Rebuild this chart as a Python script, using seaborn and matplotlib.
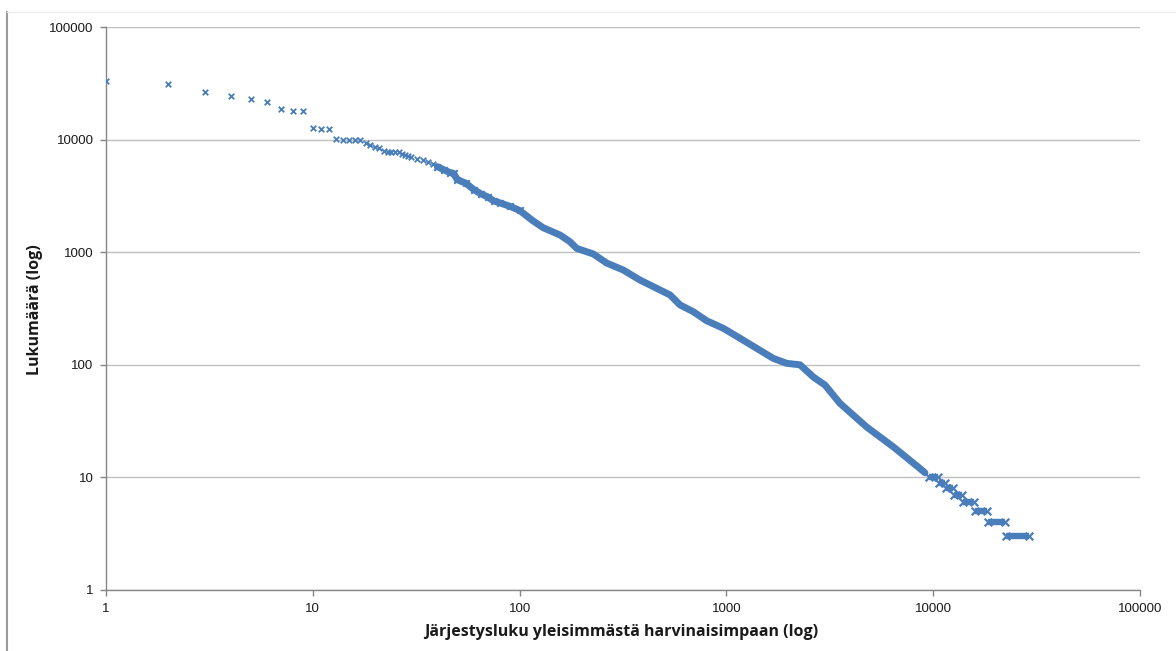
import numpy as np
import pandas as pd
import matplotlib
matplotlib.use('Agg')
import matplotlib.pyplot as plt
import seaborn as sns
from matplotlib.lines import Line2D
from matplotlib.ticker import FixedLocator, NullLocator

# most common words, read one by one
top_rank = [1, 2, 3, 4, 5, 6, 7, 8, 9, 10, 11, 12, 13, 14, 15, 16, 17, 18, 19, 20,
            21, 22, 23, 24, 25, 26, 27, 28, 29, 30, 32, 34, 36, 38, 40]
top_count = [32950, 31400, 26650, 24200, 22900, 21400, 18600, 17850, 17850, 12750,
             12400, 12400, 10050, 10020, 10010, 9990, 9900, 9400, 8950, 8650,
             8350, 7850, 7800, 7800, 7750, 7750, 7450, 7300, 7100, 6950,
             6750, 6550, 6300, 6100, 5750]

# the dense band, read along its middle
band_rank = [40, 43, 46, 48, 50, 55, 60, 65, 70, 75, 80, 90, 100, 110, 116, 130,
             157, 175, 189, 227, 264, 317, 382, 460, 534, 597, 692, 803, 966,
             1164, 1401, 1686, 1958, 2270, 2630, 3000, 3540, 4770, 6410, 8630, 9120]
band_count = [5750, 5400, 5100, 5000, 4400, 4100, 3600, 3300, 3100, 2850, 2750,
              2550, 2350, 2050, 1900, 1650, 1420, 1240, 1080, 965, 800, 695, 566,
              478, 417, 340, 296, 246, 211, 172, 140, 114, 103, 100, 78, 66, 45.5,
              28, 18.7, 12, 11]

# the tail: words with the same count sit between first and last rank
step_count = [10, 9, 8, 7, 6, 5, 4, 3]
step_first = [9500, 10700, 11550, 12600, 14000, 15900, 18400, 22400]
step_last = [10550, 11450, 12450, 13850, 15700, 18200, 22200, 29000]

x_ticks = [1, 10, 100, 1000, 10000, 100000]
y_ticks = [1, 10, 100, 1000, 10000, 100000]
x_title = 'Järjestysluku yleisimmästä harvinaisimpaan (log)'
y_title = 'Lukumäärä (log)'

blue = '#4A7EBB'
axis_grey = '#868686'

sns.set_style('white')
plt.rcParams['font.family'] = ['Liberation Sans', 'DejaVu Sans']

top = pd.DataFrame({'rank': top_rank, 'count': top_count})
band = pd.DataFrame({'rank': band_rank, 'count': band_count})
ends = pd.DataFrame({'rank': step_first + step_last, 'count': step_count + step_count})

fig = plt.figure(figsize=(11.76, 6.51), dpi=100)
ax = fig.add_axes([106 / 1176, 1 - 590 / 651, (1140 - 106) / 1176, (590 - 27) / 651])

ax.set_xscale('log')
ax.set_yscale('log')

sns.lineplot(data=band, x='rank', y='count', ax=ax, color=blue, lw=5.0,
             estimator=None, sort=False, solid_capstyle='round',
             solid_joinstyle='round', zorder=3)
ax.hlines(step_count, step_first, step_last, color=blue, lw=4.6, zorder=3)
sns.scatterplot(data=top, x='rank', y='count', ax=ax, marker='x', s=16,
                color=blue, linewidth=1.3, zorder=4)
sns.scatterplot(data=band[band['rank'] <= 100], x='rank', y='count', ax=ax,
                marker='x', s=22, color=blue, linewidth=1.5, zorder=4)
sns.scatterplot(data=ends, x='rank', y='count', ax=ax, marker='x', s=30,
                color=blue, linewidth=1.6, zorder=4)

ax.set_xlim(1, 100000)
ax.set_ylim(1, 100000)
ax.xaxis.set_major_locator(FixedLocator(x_ticks))
ax.yaxis.set_major_locator(FixedLocator(y_ticks))
ax.xaxis.set_minor_locator(NullLocator())
ax.yaxis.set_minor_locator(NullLocator())
ax.set_xticklabels([str(t) for t in x_ticks])
ax.set_yticklabels([str(t) for t in y_ticks])

ax.grid(axis='y', color='#BFBFBF', lw=1.0)
ax.grid(axis='x', visible=False)
ax.set_axisbelow(True)
for s in ['top', 'right']:
    ax.spines[s].set_visible(False)
for s in ['left', 'bottom']:
    ax.spines[s].set_color(axis_grey)
    ax.spines[s].set_linewidth(1.0)

ax.tick_params(axis='both', which='major', direction='out', length=4, width=1,
               color=axis_grey, labelsize=9.5, labelcolor='#1a1a1a', pad=5,
               bottom=True, left=True)

ax.set_xlabel(x_title, fontsize=11.5, fontweight='bold', family=['Open Sans', 'DejaVu Sans'],
              color='#1a1a1a')
ax.set_ylabel(y_title, fontsize=11.5, fontweight='bold', family=['Open Sans', 'DejaVu Sans'],
              color='#1a1a1a')
ax.xaxis.set_label_coords((621 - 106) / 1034, -(624 - 590) / 563)
ax.yaxis.set_label_coords(-(106 - 43) / 1034, (590 - 310) / 563)

# frame edge of the original chart
fig.add_artist(Line2D([7 / 1176, 7 / 1176], [0, 1 - 12 / 651], color='#9A9A9A', lw=1.5))
fig.add_artist(Line2D([7 / 1176, 1], [1 - 12 / 651, 1 - 12 / 651], color='#EEEEEE', lw=1.0))

fig.savefig('out.png', dpi=100)
